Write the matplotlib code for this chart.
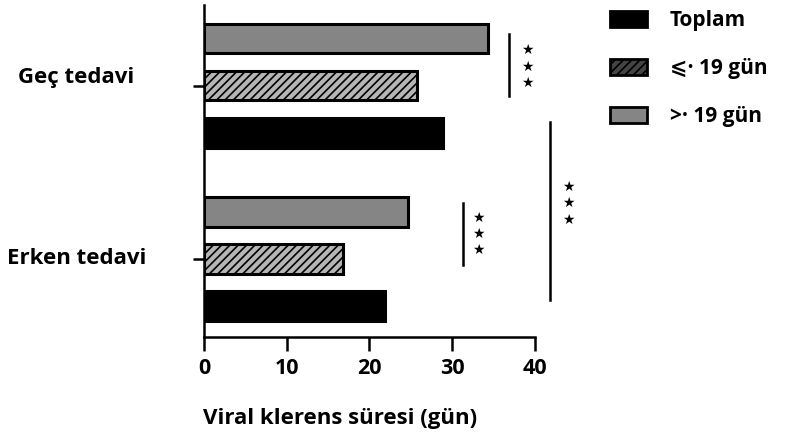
import matplotlib
matplotlib.use("Agg")
import matplotlib.pyplot as plt
from matplotlib.patches import Patch

plt.rcParams["font.family"] = ["Open Sans", "DejaVu Sans"]
plt.rcParams["hatch.color"] = "#4a4a4a"
plt.rcParams["hatch.linewidth"] = 1.2

# =========================
# Datos
# =========================
groups = ["Erken tedavi", "Geç tedavi"]
series = ["Toplam", "⩽· 19 gün", ">· 19 gün"]
toplam = [21.9, 28.9]
le19 = [16.8, 25.8]
gt19 = [24.7, 34.3]

group_pos = [0.0, 3.68]

fig = plt.figure(figsize=(7.9, 4.41), dpi=100)
ax = fig.add_axes([0.2582, 0.2358, 0.419, 0.7528])

edge_kw = dict(height=0.62, edgecolor="black", linewidth=2.2)
ax.barh([g - 1 for g in group_pos], toplam, color="black", **edge_kw)
ax.barh(group_pos, le19, color="#b5b5b5", hatch="////", **edge_kw)
ax.barh([g + 1 for g in group_pos], gt19, color="#858585", **edge_kw)

ax.set_xlim(0, 40)
ax.set_ylim(-1.66, 5.40)

for s in ["top", "right"]:
    ax.spines[s].set_visible(False)
for s in ["left", "bottom"]:
    ax.spines[s].set_linewidth(1.8)

ax.set_xticks([0, 10, 20, 30, 40])
ax.tick_params(axis="x", length=10, width=1.8, labelsize=15.5, pad=5)
for lab in ax.get_xticklabels():
    lab.set_fontweight("bold")

ax.set_yticks(group_pos)
ax.set_yticklabels([])
ax.tick_params(axis="y", length=8, width=1.8)
for g, name, dy in zip(group_pos, groups, [0.0, 0.17]):
    ax.text(-15.4, g + dy, name, ha="center", va="center",
            fontsize=16, fontweight="bold", clip_on=False)

ax.set_xlabel("Viral klerens süresi (gün)", fontsize=16, fontweight="bold")
ax.xaxis.set_label_coords(0.41, -0.215)

# Marcas de significación
def sig(x_line, y0, y1, x_star, ys):
    ax.plot([x_line, x_line], [y0, y1], color="black", lw=1.8, clip_on=False)
    for y in ys:
        ax.text(x_star, y, "★", ha="center", va="center", fontsize=10,
                family="DejaVu Sans", clip_on=False)

sig(36.9, 3.47, 4.79, 39.1, [4.45, 4.09, 3.75])
sig(31.3, -0.13, 1.19, 33.1, [0.87, 0.53, 0.19])
sig(41.8, -0.87, 2.91, 44.0, [1.53, 1.19, 0.83])

# Leyenda
handles = [
    Patch(facecolor="black", edgecolor="black", linewidth=2),
    Patch(facecolor="#444444", edgecolor="black", hatch="////", linewidth=2),
    Patch(facecolor="#858585", edgecolor="black", linewidth=2),
]
leg = fig.legend(handles, series, loc="upper left", bbox_to_anchor=(0.748, 1.02),
                 frameon=False, fontsize=15, handlelength=1.8, handleheight=0.8,
                 labelspacing=1.3, handletextpad=1.1)
for t in leg.get_texts():
    t.set_fontweight("bold")

fig.savefig("out.png", dpi=100)
